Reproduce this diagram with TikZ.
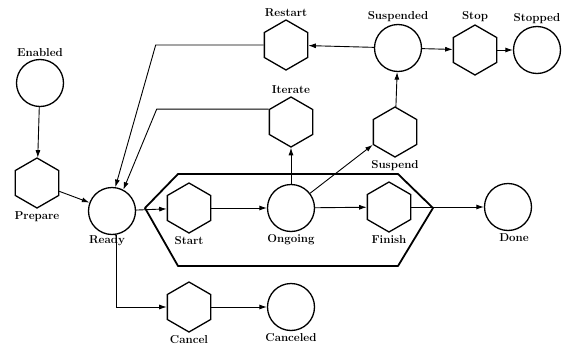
\documentclass[tikz,border=0pt]{standalone}
\usepackage{amsmath}
\usepackage{tikz}
\usetikzlibrary{positioning,arrows.meta,shapes.geometric}

\tikzset{
  place/.style={circle,draw,line width=1.3pt,minimum size=47pt,inner sep=0pt},
  trans/.style={regular polygon,regular polygon sides=6,shape border rotate=30,draw,line width=1.3pt,minimum size=50pt,inner sep=0pt},
  lbl/.style={font=\fontsize{11.5}{13}\selectfont\bfseries},
  every label/.style={lbl,label distance=-1pt},
  flow/.style={-{Latex[length=7.5pt,width=5pt]},line width=.9pt}
}

\begin{document}
\begin{tikzpicture}[x=1pt,y=-1pt]
    \useasboundingbox (0,0) rectangle (563,351);

    \node[place,label=above:Enabled] (en) at (40,83) {};
    \node[trans,label=below:Prepare] (prep) at (37,183) {};
    \node[place,label={[xshift=-5pt,label distance=-3pt]below:Ready}] (rdy) at (112,211) {};
    \node[trans,label=below:Start] (start) at (189,208) {};
    \node[place,label=below:Ongoing] (ong) at (291,208) {};
    \node[trans,label=below:Finish] (fin) at (389,207) {};
    \node[place,label={[xshift=6pt]below:Done}] (done) at (508,207) {};
    \node[trans,label=below:Cancel] (canc) at (189,307) {};
    \node[place,label=below:Canceled] (cancd) at (291,307) {};
    \node[trans,label=above:Iterate] (iter) at (291,122) {};
    \node[trans,label=above:Restart] (rest) at (286,45) {};
    \node[trans,label=below:Suspend] (susp) at (395,132) {};
    \node[place,label=above:Suspended] (suspd) at (398,48) {};
    \node[trans,label=above:Stop] (stop) at (475,50) {};
    \node[place,label=above:Stopped] (stopd) at (537,50) {};

    % the ongoing block
    \draw[line width=1.8pt,line join=round] (145,208) -- (178,174) -- (398,174)
      -- (433,208) -- (398,266) -- (178,266) -- cycle;

    \draw[flow] (en) -- (prep);
    \draw[flow] (prep) -- (rdy);
    \draw[flow] (rdy) -- (start);
    \draw[flow] (start) -- (ong);
    \draw[flow] (ong) -- (fin);
    \draw[flow] (fin) -- (done);
    \draw[flow] (ong) -- (iter);
    \draw[flow] (ong) -- (susp.210);
    \draw[flow] (susp) -- (suspd);
    \draw[flow] (suspd) -- (rest);
    \draw[flow] (suspd) -- (stop);
    \draw[flow] (stop) -- (stopd);
    \draw[flow] (rest.180) -- ++(-108,0) -- (rdy.82);
    \draw[flow] (iter.150) -- ++(-112,0) -- (rdy.62);
    \draw[flow] (rdy.-80) |- (canc);
    \draw[flow] (canc) -- (cancd);

\end{tikzpicture}
\end{document}
